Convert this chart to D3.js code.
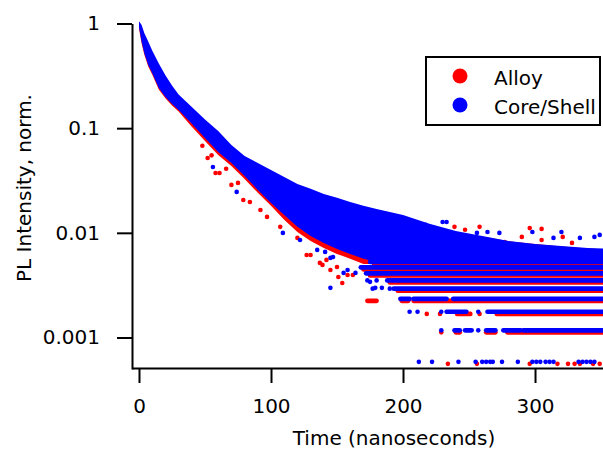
<!DOCTYPE html>
<html>
<head>
<meta charset="utf-8">
<script src="https://cdnjs.cloudflare.com/ajax/libs/d3/7.8.5/d3.min.js"></script>
<style>
  body { margin: 0; background: #fff; }
  text { font-family: "DejaVu Sans", sans-serif; font-size: 20px; fill: #000; }
</style>
</head>
<body>
<script>
// ---- values ----
// dense part of each decay cloud: upper / lower edge at sampled times (ns)
var bandTime = [0, 2, 4, 7, 10, 15, 20, 25, 30, 40, 50, 60, 70, 80, 90, 100, 110, 120, 130, 140, 150, 160, 170, 180, 190, 200, 220, 240, 260, 280, 300, 320, 340, 356];
var blueHigh = [1.05, 0.968, 0.811, 0.673, 0.553, 0.414, 0.320, 0.255, 0.210, 0.159, 0.121, 0.0940, 0.0691, 0.0543, 0.0465, 0.0399, 0.0342, 0.0293, 0.0263, 0.0235, 0.0216, 0.0197, 0.0181, 0.0169, 0.0158, 0.0148, 0.0122, 0.0104, 0.00934, 0.00837, 0.00784, 0.00750, 0.00718, 0.00702];
var blueLow = [0.926, 0.666, 0.523, 0.402, 0.337, 0.242, 0.199, 0.170, 0.149, 0.110, 0.0806, 0.0593, 0.0465, 0.0349, 0.0257, 0.0193, 0.0148, 0.0114, 0.00934, 0.00801, 0.00702, 0.00629, 0.00564, 0.00527, 0.00527, 0.00527, 0.00527, 0.00527, 0.00527, 0.00527, 0.00527, 0.00527, 0.00527, 0.00527];
var redHigh = [1.0, 0.93, 0.78, 0.645, 0.53, 0.396, 0.306, 0.244, 0.201, 0.152, 0.116, 0.090, 0.066, 0.052, 0.0445, 0.0382, 0.0327, 0.028, 0.0252, 0.0225, 0.0207, 0.0189, 0.0173, 0.0162, 0.0151, 0.0142, 0.0117, 0.0100, 0.0092, 0.0083, 0.0078, 0.0074, 0.0071, 0.0069];
var redLow = [0.896, 0.645, 0.506, 0.389, 0.326, 0.234, 0.193, 0.165, 0.144, 0.103, 0.0754, 0.0555, 0.0435, 0.0327, 0.0241, 0.0181, 0.0133, 0.0102, 0.00837, 0.00718, 0.00629, 0.00564, 0.00505, 0.00504, 0.00504, 0.00504, 0.00504, 0.00504, 0.00504, 0.00504, 0.00504, 0.00504, 0.00504, 0.00504];

// photon-count floor: the discrete levels (1, 2, 3 ... counts)
var blueLevels = [0.000585, 0.00117, 0.00176, 0.00234, 0.00293, 0.00351, 0.0041, 0.00468, 0.00527];
var redLevels = [0.00056, 0.00112, 0.00168, 0.00224, 0.0028, 0.00336, 0.00392, 0.00448, 0.00504];
// continuous runs of points on a level: [level index, start ns, end ns]
var blueRuns = [[8, 175, 356], [7, 168, 356], [6, 172, 356], [5, 188, 356], [4, 193, 356],
  [3, 198, 205], [3, 208, 233], [3, 238, 356], [2, 233, 248], [2, 264, 356],
  [1, 239, 243], [1, 247, 252], [1, 263, 270], [1, 276, 289], [1, 291, 356]];
var redRuns = [[8, 178, 356], [7, 170, 356], [6, 175, 356], [5, 190, 356], [4, 196, 356],
  [3, 173, 180], [3, 199, 204], [3, 208, 356], [2, 241, 251], [2, 271, 356],
  [1, 240, 243], [1, 263, 270], [1, 279, 356]];

// loose single points
var blueDotT = [184, 190, 217, 230, 233, 256, 264, 273, 298, 314, 320, 334, 345, 349,
  56, 74, 109, 122, 135, 141, 145, 147, 155, 158, 164, 175, 179, 184, 145,
  173, 180, 177, 190, 205, 211, 229, 257, 229, 257,
  212, 222, 242, 255, 260, 263, 266, 268, 275, 287, 298, 301, 304, 308, 311, 314, 333, 336, 339, 342, 345];
var blueDotV = [0.0148, 0.0142, 0.0119, 0.0127, 0.0127, 0.00998, 0.0102, 0.00998, 0.0102, 0.00894, 0.0102, 0.00894, 0.00914, 0.00955,
  0.0426, 0.0246, 0.00998, 0.00855, 0.00687, 0.00657, 0.00576, 0.00588, 0.00414, 0.00442, 0.00414, 0.0034, 0.00298, 0.00298, 0.00298,
  0.00351, 0.00351, 0.00293, 0.00293, 0.00176, 0.00176, 0.00176, 0.00176, 0.00117, 0.00117,
  0.000585, 0.000585, 0.000585, 0.000585, 0.000585, 0.000585, 0.000585, 0.000585, 0.000585, 0.000585, 0.000585, 0.000585, 0.000585, 0.000585, 0.000585, 0.000585, 0.000585, 0.000585, 0.000585, 0.000585, 0.000585];
var redDotT = [195, 211, 239, 247, 258, 277, 290, 296, 305, 305, 321, 328,
  48, 52, 55, 58, 61, 66, 70, 75, 79, 84, 92, 97, 107, 120, 127, 130, 137, 139, 142, 145, 150, 151, 154, 158, 162,
  218, 228, 258, 229,
  234, 256, 296, 317, 325, 330, 334, 344, 349];
var redDotV = [0.0133, 0.0124, 0.0114, 0.0107, 0.0114, 0.00818, 0.00914, 0.0111, 0.0109, 0.00855, 0.00914, 0.00801,
  0.068, 0.0519, 0.055, 0.0373, 0.0373, 0.041, 0.0287, 0.030, 0.0206, 0.0197, 0.0165, 0.0142, 0.0114, 0.00894, 0.00615, 0.00615, 0.00516, 0.00494, 0.00551, 0.00442, 0.00472, 0.00379, 0.00332, 0.00396, 0.00396,
  0.00168, 0.00168, 0.00168, 0.00112,
  0.00056, 0.00056, 0.00056, 0.00056, 0.00056, 0.00056, 0.00056, 0.00056, 0.00056];

var yTicks = [1, 0.1, 0.01, 0.001];
var xTicks = [0, 100, 200, 300];

// ---- chart ----
var svgWidth = 603;
var svgHeight = 450;
var dotR = 2.3;

var svg = d3.select("body").append("svg")
  .attr("width", svgWidth)
  .attr("height", svgHeight);

svg.append("rect").attr("width", svgWidth).attr("height", svgHeight).attr("fill", "#fff");

var x = d3.scaleLinear().domain([-5.3, 351.5]).range([132, 603]);
var y = d3.scaleLog().domain([0.0005, 1]).range([369, 23.5]);

var plot = svg.append("g");

function drawSeries(color, high, low, levels, runs, dotT, dotV) {
  var band = d3.area()
    .x(function (d, i) { return x(bandTime[i]); })
    .y0(function (d, i) { return y(low[i]); })
    .y1(function (d, i) { return y(high[i]); });

  plot.append("path")
    .datum(bandTime)
    .attr("d", band)
    .attr("fill", color);

  plot.append("g").selectAll("line")
    .data(runs)
    .join("line")
      .attr("x1", d => x(d[1]))
      .attr("x2", d => x(d[2]))
      .attr("y1", d => y(levels[d[0]]))
      .attr("y2", d => y(levels[d[0]]))
      .attr("stroke", color)
      .attr("stroke-width", dotR * 2)
      .attr("stroke-linecap", "round");

  plot.append("g").selectAll("circle")
    .data(dotT)
    .join("circle")
      .attr("cx", d => x(d))
      .attr("cy", (d, i) => y(dotV[i]))
      .attr("r", dotR)
      .attr("fill", color);
}

// Alloy first, Core/Shell drawn over it
drawSeries("#ff0000", redHigh, redLow, redLevels, redRuns, redDotT, redDotV);
drawSeries("#0000ff", blueHigh, blueLow, blueLevels, blueRuns, blueDotT, blueDotV);

// axes
var yAxis = d3.axisLeft(y)
  .tickValues(yTicks)
  .tickFormat(d => String(d))
  .tickSize(15)
  .tickSizeOuter(0)
  .tickPadding(17);

var gy = svg.append("g")
  .attr("transform", "translate(132,0)")
  .call(yAxis);

var xAxis = d3.axisBottom(x)
  .tickValues(xTicks)
  .tickFormat(d3.format("d"))
  .tickSize(15)
  .tickSizeOuter(0)
  .tickPadding(16);

var gx = svg.append("g")
  .attr("transform", "translate(0,368)")
  .call(xAxis);

[gx, gy].forEach(function (g) {
  g.attr("font-size", null).attr("font-family", null);
  g.select(".domain").attr("stroke", "#000").attr("stroke-width", 2);
  g.selectAll(".tick line").attr("stroke", "#000").attr("stroke-width", 2);
  g.selectAll(".tick text").attr("fill", "#000");
});

// axis titles
svg.append("text")
  .attr("x", 394)
  .attr("y", 445)
  .attr("text-anchor", "middle")
  .text("Time (nanoseconds)");

svg.append("text")
  .attr("transform", "translate(31,188) rotate(-90)")
  .attr("text-anchor", "middle")
  .text("PL Intensity, norm.");

// legend
var legend = svg.append("g");
legend.append("rect")
  .attr("x", 426).attr("y", 57)
  .attr("width", 174).attr("height", 68)
  .attr("fill", "#fff")
  .attr("stroke", "#000")
  .attr("stroke-width", 2);

var legendItems = [["Alloy", "#ff0000"], ["Core/Shell", "#0000ff"]];
legend.selectAll("circle")
  .data(legendItems)
  .join("circle")
    .attr("cx", 460)
    .attr("cy", (d, i) => 76 + i * 29)
    .attr("r", 7.5)
    .attr("fill", d => d[1]);

legend.selectAll("text")
  .data(legendItems)
  .join("text")
    .attr("x", 494)
    .attr("y", (d, i) => 84.5 + i * 29)
    .text(d => d[0]);
</script>
</body>
</html>
